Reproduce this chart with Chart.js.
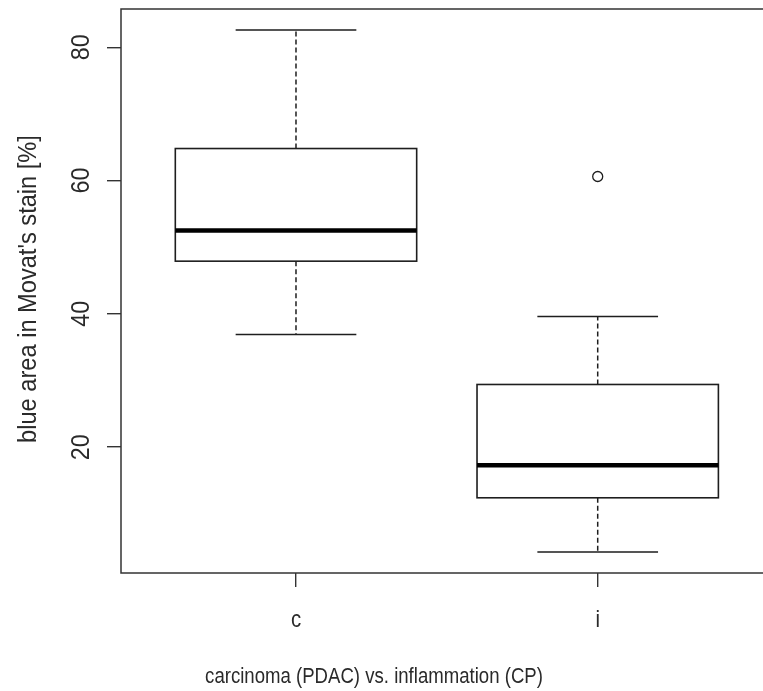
<!DOCTYPE html>
<html><head><meta charset="utf-8">
<script src="https://cdn.jsdelivr.net/npm/chart.js@4"></script>
<style>html,body{margin:0;padding:0;background:#fff;overflow:hidden}#wrap{width:779px;height:691px}</style>
</head><body><div id="wrap"><canvas id="c" width="779" height="691"></canvas></div>
<script>
const categories = ['c', 'i'];
const whiskerLow  = [36.9, 4.25];
const q1          = [47.9, 12.4];
const median      = [52.5, 17.3];
const q3          = [64.8, 29.4];
const whiskerHigh = [82.6, 39.6];
const outliers    = [[], [60.6]];
const yTicks = [20, 40, 60, 80];
const xTitle = 'carcinoma (PDAC) vs. inflammation (CP)';
const yTitle = "blue area in Movat's stain [%]";

const allVals = whiskerLow.concat(whiskerHigh, ...outliers);
const lo = Math.min(...allVals), hi = Math.max(...allVals);
const pad = 0.04 * (hi - lo);
const xPad = 0.04 * categories.length;

const outlierPoints = [];
outliers.forEach((arr, i) => arr.forEach(v => outlierPoints.push({x: i + 1, y: v})));

const LINE = '#1e1e1e';
const TEXT = '#2a2a2a';
const FONT = '"Liberation Sans", Arial, sans-serif';

// draw text compressed along its direction (narrow rendering like the reference)
function drawText(ctx, text, x, y, size, squeeze, rotated) {
  ctx.save();
  ctx.font = size + 'px ' + FONT;
  ctx.textAlign = 'center';
  ctx.textBaseline = 'alphabetic';
  ctx.translate(x, y);
  if (rotated) ctx.rotate(-Math.PI / 2);
  ctx.scale(squeeze, 1);
  ctx.fillText(text, 0, 0);
  ctx.restore();
}

const boxPlugin = {
  id: 'boxes',
  beforeDatasetsDraw(chart) {
    const ctx = chart.ctx, xs = chart.scales.x, ys = chart.scales.y;
    ctx.save();
    categories.forEach((c, i) => {
      const cx = xs.getPixelForValue(i + 1);
      const bl = xs.getPixelForValue(i + 1 - 0.4), br = xs.getPixelForValue(i + 1 + 0.4);
      const cl = xs.getPixelForValue(i + 1 - 0.2), cr = xs.getPixelForValue(i + 1 + 0.2);
      const yq1 = ys.getPixelForValue(q1[i]), yq3 = ys.getPixelForValue(q3[i]);
      const ymed = ys.getPixelForValue(median[i]);
      const ylo = ys.getPixelForValue(whiskerLow[i]), yhi = ys.getPixelForValue(whiskerHigh[i]);
      ctx.strokeStyle = LINE;
      ctx.lineWidth = 1.5;
      ctx.setLineDash([5, 3]);
      ctx.beginPath();
      ctx.moveTo(cx, yq3); ctx.lineTo(cx, yhi);
      ctx.moveTo(cx, yq1); ctx.lineTo(cx, ylo);
      ctx.stroke();
      ctx.setLineDash([]);
      ctx.beginPath();
      ctx.moveTo(cl, yhi); ctx.lineTo(cr, yhi);
      ctx.moveTo(cl, ylo); ctx.lineTo(cr, ylo);
      ctx.stroke();
      ctx.fillStyle = '#fff';
      ctx.fillRect(bl, yq3, br - bl, yq1 - yq3);
      ctx.lineWidth = 1.6;
      ctx.strokeRect(bl, yq3, br - bl, yq1 - yq3);
      ctx.strokeStyle = '#000';
      ctx.lineWidth = 4.5;
      ctx.beginPath();
      ctx.moveTo(bl, ymed); ctx.lineTo(br, ymed);
      ctx.stroke();
    });
    ctx.restore();
  },
  afterDraw(chart) {
    const ctx = chart.ctx, a = chart.chartArea, xs = chart.scales.x, ys = chart.scales.y;
    ctx.save();
    ctx.strokeStyle = '#333';
    ctx.lineWidth = 1.5;
    ctx.strokeRect(a.left, a.top, a.right - a.left, a.bottom - a.top);
    ctx.fillStyle = TEXT;
    yTicks.forEach(t => drawText(ctx, String(t), 89, ys.getPixelForValue(t), 26, 0.9, true));
    drawText(ctx, yTitle, 36, (a.top + a.bottom) / 2 - 2, 25, 0.945, true);
    categories.forEach((c, i) => drawText(ctx, c, xs.getPixelForValue(i + 1), 627, 24, 0.85, false));
    drawText(ctx, xTitle, 374, 683, 22, 0.845, false);
    ctx.restore();
  }
};

new Chart(document.getElementById('c'), {
  type: 'scatter',
  data: {
    datasets: [{
      data: outlierPoints,
      pointStyle: 'circle',
      pointRadius: 5,
      pointBorderWidth: 1.3,
      borderColor: LINE,
      backgroundColor: 'rgba(0,0,0,0)'
    }]
  },
  options: {
    responsive: false,
    animation: false,
    events: [],
    layout: {padding: {top: 9, right: 2, left: 0, bottom: 0}},
    plugins: {legend: {display: false}, tooltip: {enabled: false}},
    scales: {
      x: {
        type: 'linear',
        min: 0.5 - xPad,
        max: categories.length + 0.5 + xPad,
        afterBuildTicks: s => { s.ticks = categories.map((c, i) => ({value: i + 1})); },
        afterFit: s => { s.height = 118; },
        ticks: {display: false},
        border: {display: false},
        grid: {drawOnChartArea: false, drawTicks: true, tickLength: 14, color: '#333', lineWidth: 1.4}
      },
      y: {
        min: lo - pad,
        max: hi + pad,
        afterBuildTicks: s => { s.ticks = yTicks.map(v => ({value: v})); },
        afterFit: s => { s.width = 121; },
        ticks: {display: false},
        border: {display: false},
        grid: {drawOnChartArea: false, drawTicks: true, tickLength: 14, color: '#333', lineWidth: 1.4}
      }
    }
  },
  plugins: [boxPlugin]
});
</script>
</body></html>
